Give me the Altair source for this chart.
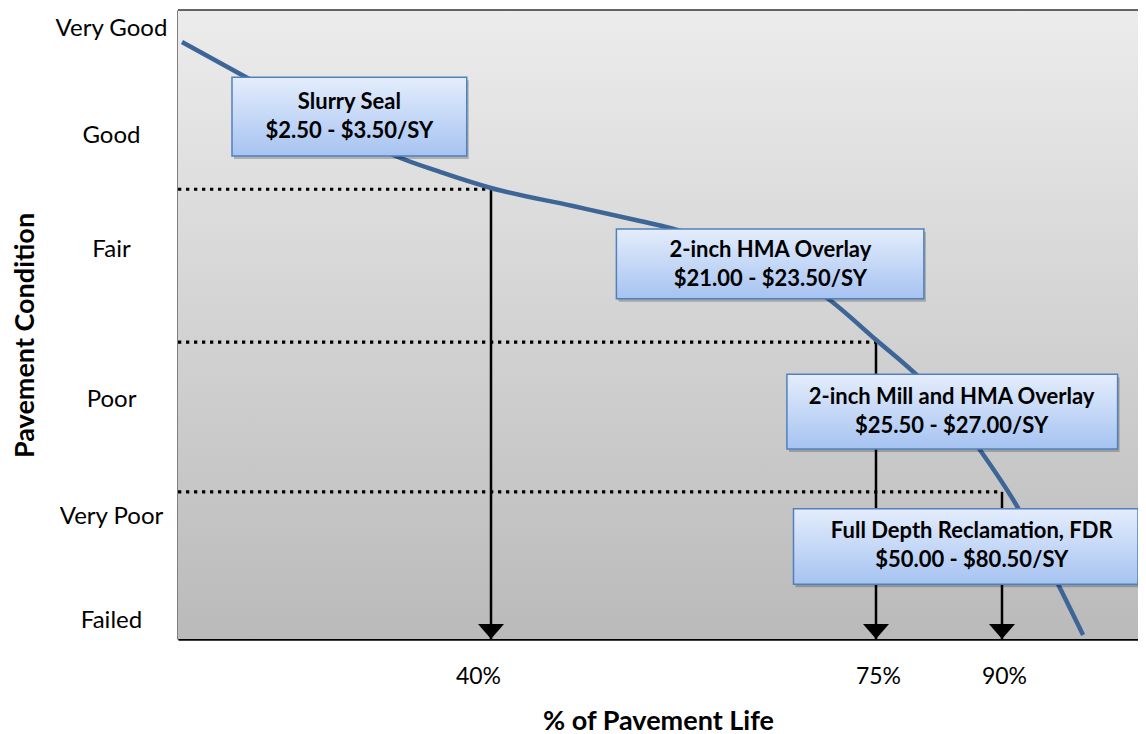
import altair as alt
import pandas as pd

# ---- data ----
life_pct = [0.51, 8.18, 18.15, 27.48, 33.48, 40.0, 47.45, 53.55, 56.27, 60.82, 65.36, 70.55,
            74.91, 80.60, 83.81, 87.38, 91.10, 94.04, 95.96]
condition = [94.91, 89.67, 82.99, 76.95, 74.25, 71.70, 68.84, 66.45, 65.34, 62.80, 59.46, 54.21,
             47.69, 41.00, 36.40, 30.05, 21.14, 9.06, 0.64]

cond_labels = ["Very Good", "Good", "Fair", "Poor", "Very Poor", "Failed"]
cond_label_pos = [97, 80, 62, 38, 19.5, 3]

trigger_life = [40, 75, 90]
trigger_cond = [71.5, 47.2, 23.4]

treatments = ["Slurry Seal", "2-inch HMA Overlay", "2-inch Mill and HMA Overlay", "Full Depth Reclamation, FDR"]
costs = ["$2.50 - $3.50/SY", "$21.00 - $23.50/SY", "$25.50 - $27.00/SY", "$50.00 - $80.50/SY"]
box_x1 = [6.9, 51.4, 66.9, 67.5]
box_x2 = [36.9, 80.7, 98.5, 100.0]
box_top = [89.3, 65.2, 42.1, 20.7]
box_bottom = [76.8, 54.1, 30.2, 8.7]
text_x = [21.9, 65.4, 84.0, 86.4]
text_y = [83.1, 59.6, 36.1, 14.8]

# ---- layout / style ----
W, H = 960, 629
FONT = "Lato"

curve_df = pd.DataFrame({"life": life_pct, "cond": condition})
trig_df = pd.DataFrame({"life": trigger_life, "cond": trigger_cond, "start": [0] * 3, "bottom": [0] * 3})
box_df = pd.DataFrame({
    "x1": box_x1, "x2": box_x2, "y1": box_top, "y2": box_bottom,
    "tx": text_x, "ty": text_y,
    "label": [f"{t}\n{c}" for t, c in zip(treatments, costs)],
})
frame_df = pd.DataFrame({"x1": [0], "x2": [100], "y1": [0], "y2": [100]})

label_expr = " : ".join(
    f"datum.value == {p} ? '{l}'" for p, l in zip(cond_label_pos, cond_labels)
) + " : ''"

xscale = alt.Scale(domain=[0, 40, 75, 90, 100], range=[0, 313, 698, 824, W], nice=False, zero=False)
yscale = alt.Scale(domain=[0, 100], nice=False, zero=False)

xaxis = alt.Axis(
    values=trigger_life, labelExpr="datum.value + '%'", grid=False, ticks=False, tickSize=0,
    labelPadding=26, labelFontSize=23, labelFont=FONT, labelColor="#000",
    labelOffset={"condition": {"test": "datum.value == 40", "value": -13}, "value": 2},
    domainColor="#000", domainWidth=2.5,
    title="% of Pavement Life", titleFontSize=27, titleFont=FONT, titleFontWeight="bold",
    titleColor="#000", titleY=82, titleBaseline="middle",
)
yaxis = alt.Axis(
    values=cond_label_pos, labelExpr=label_expr, grid=False, ticks=False, tickSize=0,
    labelPadding=67, labelAlign="center", labelBaseline="middle",
    labelFontSize=24, labelFont=FONT, labelColor="#000",
    domainColor="#000", domainWidth=2,
    title="Pavement Condition", titleFontSize=27, titleFont=FONT, titleFontWeight="bold",
    titleColor="#000", titleX=-153, titleY=325, titleBaseline="middle",
)

bg = alt.Chart(frame_df).mark_rect(
    fill=alt.Gradient(
        gradient="linear", x1=0, x2=0, y1=0, y2=1,
        stops=[alt.GradientStop(color="#ececec", offset=0), alt.GradientStop(color="#bababa", offset=1)],
    )
).encode(
    x=alt.X("x1:Q", scale=xscale, axis=xaxis), x2="x2:Q",
    y=alt.Y("y1:Q", scale=yscale, axis=yaxis), y2="y2:Q",
)

top_border = alt.Chart(frame_df).mark_rule(color="#333", strokeWidth=1.5).encode(
    x="x1:Q", x2="x2:Q", y="y2:Q"
)

dotted = alt.Chart(trig_df).mark_rule(color="#000", strokeWidth=3.2, strokeDash=[3.3, 4.7]).encode(
    x="start:Q", x2="life:Q", y="cond:Q"
)

arrows = alt.Chart(trig_df).mark_rule(color="#000", strokeWidth=2.5).encode(
    x="life:Q", y="cond:Q", y2="bottom:Q"
)

heads = alt.Chart(trig_df).mark_point(
    shape="M-1,-0.58L1,-0.58L0,0.58Z", size=676, filled=True, color="#000", opacity=1, yOffset=-7.5
).encode(x="life:Q", y="bottom:Q")

curve = alt.Chart(curve_df).mark_line(color="#3d6596", strokeWidth=4.5, interpolate="monotone").encode(
    x="life:Q", y="cond:Q"
)

shadow = alt.Chart(box_df).mark_rect(
    color="#000", opacity=0.22, xOffset=2, x2Offset=2, yOffset=3, y2Offset=3
).encode(x="x1:Q", x2="x2:Q", y="y1:Q", y2="y2:Q")

boxes = alt.Chart(box_df).mark_rect(
    fill=alt.Gradient(
        gradient="linear", x1=0, x2=0, y1=0, y2=1,
        stops=[alt.GradientStop(color="#e4edfc", offset=0), alt.GradientStop(color="#a6c3f1", offset=1)],
    ),
    stroke="#4f81bd", strokeWidth=1.5,
).encode(x="x1:Q", x2="x2:Q", y="y1:Q", y2="y2:Q")

texts = alt.Chart(box_df).mark_text(
    font=FONT, fontSize=22, fontWeight="bold", color="#000", lineBreak="\n", lineHeight=29,
    align="center", baseline="middle", dy=-14.5,
).encode(x="tx:Q", y="ty:Q", text="label:N")

chart = alt.layer(bg, top_border, dotted, arrows, heads, curve, shadow, boxes, texts).properties(
    width=W, height=H,
    autosize=alt.AutoSizeParams(type="none"),
    padding={"left": 170, "top": 2, "right": 0, "bottom": 100},
).configure_view(stroke=None)

chart.save("out.html", embed_options={"renderer": "svg", "actions": False})
